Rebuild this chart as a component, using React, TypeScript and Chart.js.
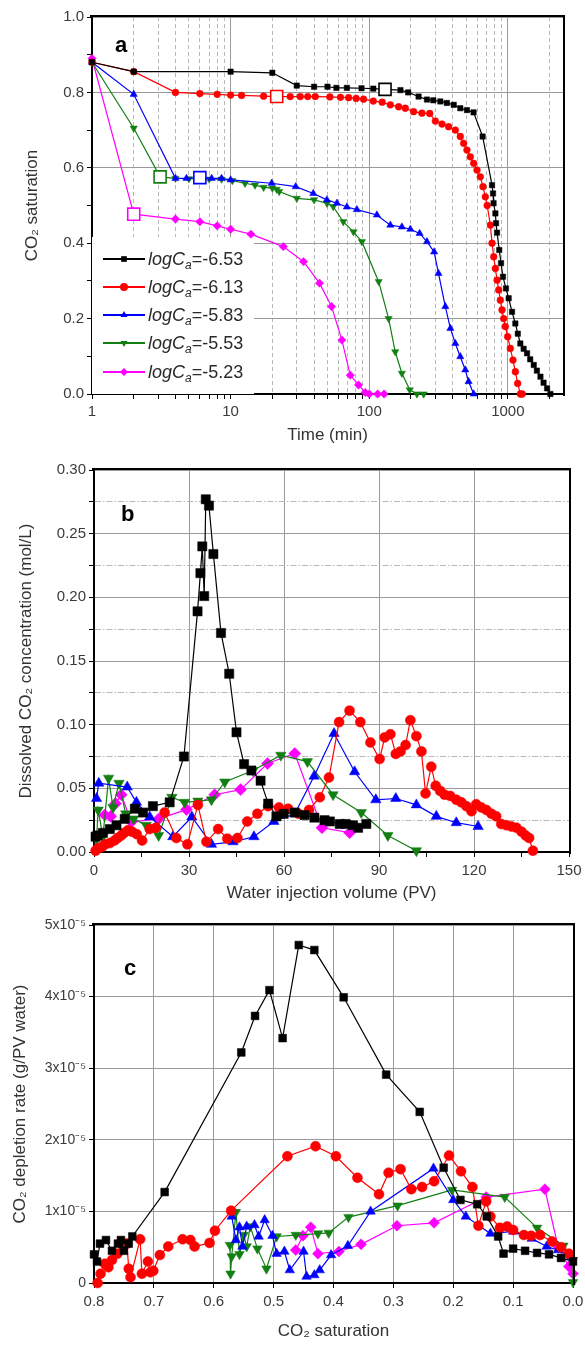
import React, { useEffect, useRef } from 'react';
import { Chart, registerables } from 'chart.js';
Chart.register(...registerables);

const FONT = '"Liberation Sans", Arial, Helvetica, sans-serif';
const TICK_COLOR = '#3a3a3a';
const TITLE_COLOR = '#333333';
const GRID_MAJOR = '#9a9a9a';
const GRID_MINOR = '#b8b8b8';

// ---- series definitions ----
const SERIES_NAMES = ['-6.53', '-6.13', '-5.83', '-5.53', '-5.23'];
const SERIES_COLORS = ['#000000', '#ff0000', '#0000ff', '#127f12', '#ff00ff'];
const SERIES_STYLES = ['rect', 'circle', 'triangle', 'triangle', 'rectRot'];
const SERIES_ROT = [0, 0, 0, 180, 0];

// ---- panel a: CO2 saturation vs time (min) ----
const A_TIME_TICKS = [1, 2, 3, 4, 5, 6, 7, 8, 9, 10, 20, 30, 40, 50, 60, 70, 80, 90, 100, 200, 300, 400, 500, 600, 700, 800, 900, 1000, 2000];
const A_TIME_LABELS = [1, 10, 100, 1000];
const A_BLACK = [[1, 0.88], [2, 0.855], [10, 0.855], [20, 0.852], [30, 0.818], [40, 0.815], [50, 0.815], [58, 0.812], [69, 0.812], [88, 0.811], [107, 0.81], [130, 0.808], [168, 0.806], [191, 0.8], [227, 0.789], [261, 0.781], [290, 0.779], [326, 0.776], [363, 0.772], [407, 0.767], [454, 0.758], [507, 0.753], [566, 0.747], [658, 0.683], [769, 0.554], [782, 0.532], [789, 0.506], [813, 0.479], [822, 0.453], [836, 0.428], [867, 0.382], [893, 0.347], [922, 0.311], [969, 0.28], [1014, 0.254], [1072, 0.218], [1133, 0.187], [1180, 0.16], [1231, 0.134], [1300, 0.12], [1376, 0.108], [1450, 0.092], [1538, 0.077], [1620, 0.062], [1719, 0.046], [1810, 0.03], [1919, 0.015], [2028, 0.0]];
const A_RED = [[1, 0.88], [2, 0.855], [4, 0.8], [6, 0.797], [8, 0.795], [10, 0.793], [12, 0.792], [17.3, 0.79], [21.5, 0.789], [26.9, 0.789], [31.8, 0.789], [36, 0.789], [40.8, 0.789], [52, 0.788], [62, 0.787], [71, 0.786], [80.5, 0.784], [91, 0.782], [107, 0.777], [124, 0.774], [142, 0.767], [163, 0.762], [182, 0.758], [209, 0.749], [240, 0.745], [273, 0.744], [300, 0.724], [335, 0.716], [374, 0.709], [418, 0.7], [454, 0.683], [480, 0.665], [507, 0.647], [536, 0.629], [567, 0.612], [599, 0.594], [633, 0.576], [662, 0.55], [688, 0.523], [710, 0.5], [748, 0.448], [769, 0.4], [791, 0.364], [813, 0.333], [836, 0.302], [859, 0.276], [883, 0.249], [908, 0.223], [933, 0.2], [959, 0.179], [997, 0.152], [1042, 0.121], [1089, 0.09], [1133, 0.059], [1177, 0.028], [1231, 0.0], [1270, 0.0]];
const A_BLUE = [[1, 0.88], [2, 0.795], [4, 0.572], [4.8, 0.572], [6, 0.574], [7.3, 0.572], [8.6, 0.572], [10, 0.568], [19.8, 0.559], [29.5, 0.55], [39.5, 0.532], [49.5, 0.515], [58.5, 0.506], [69, 0.496], [81.5, 0.489], [113.6, 0.475], [142, 0.448], [172, 0.443], [198, 0.437], [231, 0.426], [261, 0.404], [294, 0.377], [316, 0.32], [354, 0.232], [385, 0.174], [418, 0.134], [454, 0.099], [493, 0.064], [521, 0.033], [567, 0.0]];
const A_GREEN = [[1, 0.88], [2, 0.705], [3.1, 0.576], [4, 0.572], [5, 0.571], [7, 0.57], [8.6, 0.57], [10.3, 0.566], [12.7, 0.559], [15, 0.554], [17.3, 0.548], [20, 0.546], [21.5, 0.543], [22.4, 0.537], [30, 0.519], [40, 0.515], [49.6, 0.506], [55, 0.497], [65, 0.457], [77, 0.43], [88.5, 0.404], [117, 0.298], [138, 0.2], [154, 0.112], [172, 0.055], [196, 0.011], [221, 0.0], [247, 0.0]];
const A_MAGENTA = [[1, 0.89], [2, 0.477], [4, 0.464], [6, 0.457], [8, 0.446], [10, 0.437], [14, 0.424], [24, 0.391], [33.6, 0.351], [43.8, 0.294], [53.5, 0.232], [63.5, 0.143], [73, 0.05], [83.7, 0.024], [93.6, 0.004], [100, 0.0], [115, 0.0], [128, 0.0]];
const A_OPEN_MARKS = [[130, 0.808], [21.5, 0.789], [6, 0.574], [3.1, 0.576], [2, 0.477]];

// ---- panel b: dissolved CO2 concentration vs water injection volume ----
const B_BLACK = [[0.5, 0.012], [1.1, 0.013], [2.8, 0.015], [5, 0.018], [7.1, 0.021], [9.7, 0.026], [12.9, 0.034], [15.5, 0.031], [18.6, 0.036], [23.9, 0.039], [28.4, 0.075], [32.7, 0.189], [33.6, 0.219], [34.2, 0.24], [34.8, 0.201], [35.3, 0.277], [36.3, 0.272], [37.7, 0.234], [40.1, 0.172], [42.7, 0.14], [45.0, 0.094], [47.4, 0.069], [49.7, 0.064], [52.6, 0.056], [55.0, 0.038], [57.6, 0.028], [59.9, 0.03], [63.4, 0.031], [66.5, 0.029], [69.6, 0.027], [72.8, 0.025], [74.5, 0.024], [77.6, 0.022], [79.5, 0.022], [81.8, 0.021], [83.4, 0.019], [86, 0.022]];
const B_RED = [[0.5, 0.001], [1.3, 0.003], [2.5, 0.004], [3.5, 0.006], [5, 0.007], [6.5, 0.009], [7.5, 0.011], [8.6, 0.013], [9.5, 0.015], [10.7, 0.017], [12, 0.016], [13.5, 0.014], [15.2, 0.009], [17.6, 0.018], [19.5, 0.019], [22.3, 0.031], [26, 0.011], [29.5, 0.006], [32.8, 0.037], [35.5, 0.008], [39.2, 0.018], [42.1, 0.0105], [45.3, 0.011], [48.4, 0.024], [51.6, 0.03], [55, 0.036], [58.4, 0.035], [61.3, 0.034], [64.6, 0.03], [67.9, 0.033], [71.3, 0.043], [74.2, 0.0585], [77.4, 0.102], [80.7, 0.111], [84.1, 0.102], [87.3, 0.086], [90.2, 0.073], [91.8, 0.09], [93.6, 0.0925], [95.3, 0.077], [96.8, 0.079], [98.4, 0.084], [99.9, 0.1035], [101.8, 0.091], [103.4, 0.079], [104.7, 0.046], [106.5, 0.067], [107.9, 0.052], [109.3, 0.048], [110.7, 0.045], [112.5, 0.044], [114.4, 0.041], [116, 0.039], [117.6, 0.036], [119.2, 0.032], [120.7, 0.0375], [122.3, 0.035], [123.9, 0.033], [125.5, 0.03], [127, 0.028], [128.6, 0.022], [130.2, 0.021], [131.8, 0.02], [133.4, 0.019], [135, 0.016], [136.3, 0.013], [137.4, 0.011], [138.6, 0.001]];
const B_BLUE = [[0.8, 0.042], [1.5, 0.054], [10.5, 0.051], [13.4, 0.039], [17.6, 0.0275], [24.9, 0.012], [30.9, 0.0275], [37.1, 0.006], [43.9, 0.008], [50.5, 0.012], [56.8, 0.024], [63.4, 0.03], [69.5, 0.0595], [75.8, 0.093], [82.3, 0.063], [89, 0.041], [95.3, 0.042], [101.8, 0.037], [108.1, 0.028], [114.4, 0.023], [121.3, 0.02]];
const B_GREEN = [[0.8, 0.01], [1.3, 0.033], [2.8, 0.012], [4.6, 0.058], [6, 0.035], [7.9, 0.054], [10, 0.03], [12.5, 0.026], [16.5, 0.021], [20.4, 0.013], [24.6, 0.043], [28.6, 0.039], [32.8, 0.04], [37.1, 0.041], [41.3, 0.055], [50.2, 0.064], [59, 0.076], [67.4, 0.071], [75.5, 0.045], [84.4, 0.031], [92.8, 0.013], [101.8, 0.001]];
const B_MAGENTA = [[3.4, 0.029], [5.3, 0.028], [6.8, 0.038], [8.6, 0.045], [11.8, 0.0236], [20.4, 0.026], [29.2, 0.0333], [38.1, 0.045], [46.3, 0.049], [54.8, 0.0695], [63.4, 0.0774], [72, 0.019], [80.7, 0.0152]];

// ---- panel c: CO2 depletion rate (x1e-5 g/PV water) vs CO2 saturation ----
const C_UNIT = 1e-5;
const C_BLACK = [[0.8, 0.4], [0.795, 0.3], [0.79, 0.55], [0.78, 0.6], [0.77, 0.45], [0.76, 0.55], [0.755, 0.6], [0.75, 0.45], [0.742, 0.55], [0.736, 0.65], [0.682, 1.27], [0.554, 3.22], [0.531, 3.73], [0.507, 4.09], [0.485, 3.42], [0.458, 4.72], [0.432, 4.65], [0.383, 3.99], [0.312, 2.91], [0.256, 2.39], [0.216, 1.61], [0.188, 1.16], [0.16, 1.1], [0.144, 0.93], [0.125, 0.65], [0.116, 0.41], [0.1, 0.48], [0.08, 0.45], [0.06, 0.42], [0.04, 0.4], [0.02, 0.35], [0.0, 0.3]];
const C_RED = [[0.794, 0.0], [0.789, 0.13], [0.782, 0.27], [0.776, 0.22], [0.77, 0.32], [0.761, 0.41], [0.751, 0.51], [0.745, 0.55], [0.742, 0.2], [0.739, 0.08], [0.723, 0.61], [0.72, 0.13], [0.71, 0.3], [0.706, 0.15], [0.701, 0.17], [0.69, 0.39], [0.676, 0.51], [0.652, 0.61], [0.639, 0.6], [0.632, 0.51], [0.607, 0.56], [0.598, 0.73], [0.571, 1.01], [0.477, 1.77], [0.43, 1.91], [0.396, 1.77], [0.36, 1.47], [0.324, 1.24], [0.308, 1.54], [0.288, 1.59], [0.27, 1.31], [0.252, 1.34], [0.232, 1.42], [0.207, 1.78], [0.187, 1.56], [0.168, 1.34], [0.158, 0.8], [0.145, 1.14], [0.138, 0.93], [0.122, 0.77], [0.11, 0.79], [0.1, 0.74], [0.082, 0.67], [0.07, 0.66], [0.055, 0.67], [0.035, 0.58], [0.02, 0.5], [0.007, 0.41]];
const C_BLUE = [[0.57, 0.93], [0.563, 0.6], [0.557, 0.78], [0.552, 0.51], [0.545, 0.79], [0.532, 0.81], [0.525, 0.65], [0.515, 0.88], [0.502, 0.66], [0.495, 0.41], [0.482, 0.44], [0.473, 0.18], [0.45, 0.44], [0.445, 0.09], [0.432, 0.11], [0.423, 0.18], [0.404, 0.39], [0.376, 0.52], [0.338, 1.0], [0.233, 1.6], [0.2, 1.16], [0.179, 0.93], [0.138, 0.69], [0.1, 0.72], [0.069, 0.62], [0.044, 0.51], [0.025, 0.46], [0.003, 0.37]];
const C_GREEN = [[0.573, 0.53], [0.572, 0.13], [0.57, 0.37], [0.563, 0.99], [0.557, 0.4], [0.55, 0.67], [0.545, 0.51], [0.539, 0.79], [0.527, 0.48], [0.512, 0.2], [0.495, 0.65], [0.463, 0.67], [0.426, 0.69], [0.408, 0.7], [0.375, 0.92], [0.293, 1.08], [0.202, 1.3], [0.114, 1.2], [0.06, 0.77], [0.016, 0.52], [0.0, 0.32], [0.0, 0.01]];
const C_MAGENTA = [[0.463, 0.46], [0.451, 0.66], [0.438, 0.78], [0.426, 0.41], [0.391, 0.44], [0.354, 0.54], [0.294, 0.8], [0.232, 0.84], [0.145, 1.2], [0.047, 1.31], [0.025, 0.51], [0.007, 0.23], [0.0, 0.13]];

// ---- helpers ----
const toXY = (arr: number[][], k = 1) => arr.map(([x, y]) => ({ x, y: y * k }));

function seriesDatasets(all: number[][][], radii: number[], k = 1) {
  return all.map((arr, i) => ({
    label: 'logCa=' + SERIES_NAMES[i],
    data: toXY(arr, k),
    showLine: true,
    borderColor: SERIES_COLORS[i],
    backgroundColor: SERIES_COLORS[i],
    borderWidth: 1.2,
    pointStyle: SERIES_STYLES[i],
    pointRotation: SERIES_ROT[i],
    pointRadius: radii[i],
    pointBorderWidth: 0.5,
    pointHoverRadius: radii[i],
    order: i + 1,
    clip: false,
  }));
}

const frameLines = {
  id: 'frameLines',
  afterDraw(chart: any) {
    const { ctx, chartArea: a } = chart;
    ctx.save();
    ctx.strokeStyle = '#000';
    ctx.lineWidth = 2;
    ctx.beginPath();
    ctx.moveTo(a.left - 2, a.top - 1);
    ctx.lineTo(a.right + 1, a.top - 1);
    ctx.lineTo(a.right + 1, a.bottom + 2);
    ctx.stroke();
    ctx.restore();
  },
};

function letterPlugin(letter: string, x: number, y: number) {
  return {
    id: 'panelLetter',
    afterDraw(chart: any) {
      const ctx = chart.ctx;
      ctx.save();
      ctx.font = 'bold 22px ' + FONT;
      ctx.fillStyle = '#000';
      ctx.textBaseline = 'middle';
      ctx.textAlign = 'left';
      ctx.fillText(letter, x, y);
      ctx.restore();
    },
  };
}

function drawMarker(ctx: CanvasRenderingContext2D, style: string, rot: number, x: number, y: number, r: number) {
  ctx.beginPath();
  if (style === 'rect') {
    const s = r * Math.SQRT1_2;
    ctx.rect(x - s, y - s, 2 * s, 2 * s);
  } else if (style === 'circle') {
    ctx.arc(x, y, r, 0, Math.PI * 2);
  } else if (style === 'triangle') {
    const sgn = rot === 180 ? -1 : 1;
    ctx.moveTo(x, y - sgn * r);
    ctx.lineTo(x + r * 0.87, y + sgn * r * 0.5);
    ctx.lineTo(x - r * 0.87, y + sgn * r * 0.5);
    ctx.closePath();
  } else {
    ctx.moveTo(x, y - r);
    ctx.lineTo(x + r, y);
    ctx.lineTo(x, y + r);
    ctx.lineTo(x - r, y);
    ctx.closePath();
  }
  ctx.fill();
}

const LEGEND_ROWS = [259, 287, 315, 343, 372];
const insetLegend = {
  id: 'insetLegend',
  beforeDatasetsDraw(chart: any) {
    const { ctx, chartArea: a } = chart;
    ctx.save();
    ctx.fillStyle = '#ffffff';
    ctx.fillRect(a.left, 237, 254 - a.left, a.bottom - 237);
    SERIES_NAMES.forEach((name, i) => {
      const y = LEGEND_ROWS[i];
      ctx.strokeStyle = SERIES_COLORS[i];
      ctx.fillStyle = SERIES_COLORS[i];
      ctx.lineWidth = 2;
      ctx.beginPath();
      ctx.moveTo(103, y);
      ctx.lineTo(145, y);
      ctx.stroke();
      drawMarker(ctx, SERIES_STYLES[i], SERIES_ROT[i], 124, y, 4);
      ctx.fillStyle = '#2a2a2a';
      ctx.textBaseline = 'alphabetic';
      ctx.textAlign = 'left';
      let x = 148;
      const base = y + 6;
      ctx.font = 'italic 18px ' + FONT;
      ctx.fillText('logC', x, base);
      x += ctx.measureText('logC').width;
      ctx.font = 'italic 12px ' + FONT;
      ctx.fillText('a', x, base + 4);
      x += ctx.measureText('a').width;
      ctx.font = '18px ' + FONT;
      ctx.fillText('=' + name, x, base);
    });
    ctx.restore();
  },
};

function fixBox(w?: number, h?: number) {
  return (s: any) => {
    if (w !== undefined) s.width = w;
    if (h !== undefined) s.height = h;
    s.paddingLeft = 0;
    s.paddingRight = 0;
    s.paddingTop = 0;
    s.paddingBottom = 0;
  };
}

const tickFont = (size: number) => ({ family: FONT, size });
const titleFont = { family: FONT, size: 17 };

function configA() {
  const main = seriesDatasets([A_BLACK, A_RED, A_BLUE, A_GREEN, A_MAGENTA], [3.8, 3.4, 4.2, 4.2, 4.2]);
  const open = A_OPEN_MARKS.map((p, i) => ({
    label: 'mark' + i,
    data: toXY([p]),
    showLine: false,
    pointStyle: 'rect',
    pointRadius: 8.5,
    pointHoverRadius: 8.5,
    borderColor: SERIES_COLORS[i],
    backgroundColor: '#ffffff',
    pointBorderWidth: 1.6,
    borderWidth: 1.6,
    order: 0,
    clip: false,
  }));
  return {
    type: 'scatter',
    data: { datasets: [...open, ...main] },
    options: {
      animation: false,
      responsive: false,
      events: [],
      layout: { padding: { left: 0, right: 22, top: 17, bottom: 0 } },
      plugins: { legend: { display: false }, tooltip: { enabled: false } },
      scales: {
        x: {
          type: 'logarithmic',
          min: 1,
          max: 2500,
          afterFit: fixBox(undefined, 56),
          afterBuildTicks: (s: any) => {
            s.ticks = A_TIME_TICKS.map((v) => ({ value: v, major: A_TIME_LABELS.includes(v) }));
          },
          ticks: {
            autoSkip: false,
            maxRotation: 0,
            padding: 4,
            color: TICK_COLOR,
            font: tickFont(15),
            callback: (v: number) => (A_TIME_LABELS.includes(v) ? String(v) : ''),
          },
          grid: {
            color: (c: any) => (c.tick && c.tick.major ? GRID_MAJOR : GRID_MINOR),
            tickColor: '#000',
            tickLength: 5,
            lineWidth: 1,
          },
          border: {
            color: '#000',
            width: 2,
            dash: (c: any) => (c.tick && !c.tick.major ? [4, 3] : []),
          },
          title: { display: true, text: 'Time (min)', color: TITLE_COLOR, font: titleFont, padding: { top: 0, bottom: 4 } },
        },
        y: {
          type: 'linear',
          min: 0,
          max: 1,
          afterFit: fixBox(92, undefined),
          ticks: {
            stepSize: 0.1,
            padding: 3,
            color: TICK_COLOR,
            font: tickFont(15),
            callback: (v: number) => (Math.round(v * 10) % 2 === 0 ? v.toFixed(1) : ''),
          },
          grid: {
            color: (c: any) => (c.tick && Math.round(c.tick.value * 10) % 2 === 0 ? GRID_MAJOR : 'rgba(0,0,0,0)'),
            tickColor: '#000',
            tickLength: 5,
          },
          border: { color: '#000', width: 2 },
          title: { display: true, text: 'CO₂ saturation', color: TITLE_COLOR, font: titleFont, padding: { top: 22, bottom: 0 } },
        },
      },
    },
    plugins: [insetLegend, frameLines, letterPlugin('a', 115, 46)],
  };
}

function configB() {
  return {
    type: 'scatter',
    data: { datasets: seriesDatasets([B_BLACK, B_RED, B_BLUE, B_GREEN, B_MAGENTA], [6.5, 5, 6, 6, 6]) },
    options: {
      animation: false,
      responsive: false,
      events: [],
      layout: { padding: { left: 0, right: 16, top: 20, bottom: 0 } },
      plugins: { legend: { display: false }, tooltip: { enabled: false } },
      scales: {
        x: {
          type: 'linear',
          min: 0,
          max: 150,
          afterFit: fixBox(undefined, 58),
          ticks: {
            stepSize: 15,
            autoSkip: false,
            maxRotation: 0,
            padding: 5,
            color: TICK_COLOR,
            font: tickFont(15),
            callback: (v: number) => (Math.round(v) % 30 === 0 ? String(Math.round(v)) : ''),
          },
          grid: {
            color: (c: any) => (c.tick && Math.round(c.tick.value) % 30 === 0 ? GRID_MAJOR : 'rgba(0,0,0,0)'),
            tickColor: '#000',
            tickLength: 5,
          },
          border: { color: '#000', width: 2 },
          title: { display: true, text: 'Water injection volume (PV)', color: TITLE_COLOR, font: titleFont, padding: { top: 0, bottom: 6 } },
        },
        y: {
          type: 'linear',
          min: 0,
          max: 0.3,
          afterFit: fixBox(94, undefined),
          ticks: {
            stepSize: 0.025,
            padding: 3,
            color: TICK_COLOR,
            font: tickFont(15),
            callback: (v: number) => (Math.round(v / 0.025) % 2 === 0 ? v.toFixed(2) : ''),
          },
          grid: {
            color: (c: any) => (c.tick && Math.round(c.tick.value / 0.025) % 2 === 0 ? GRID_MAJOR : GRID_MINOR),
            tickColor: '#000',
            tickLength: 5,
          },
          border: {
            color: '#000',
            width: 2,
            dash: (c: any) => (c.tick && Math.round(c.tick.value / 0.025) % 2 === 1 ? [6, 2, 1.5, 2] : []),
          },
          title: { display: true, text: 'Dissolved CO₂ concentration (mol/L)', color: TITLE_COLOR, font: titleFont, padding: { top: 16, bottom: 0 } },
        },
      },
    },
    plugins: [frameLines, letterPlugin('b', 121, 65)],
  };
}

function configC() {
  return {
    type: 'scatter',
    data: { datasets: seriesDatasets([C_BLACK, C_RED, C_BLUE, C_GREEN, C_MAGENTA], [5.5, 5, 5.5, 5.5, 5.5], C_UNIT) },
    options: {
      animation: false,
      responsive: false,
      events: [],
      layout: { padding: { left: 0, right: 12, top: 15, bottom: 0 } },
      plugins: { legend: { display: false }, tooltip: { enabled: false } },
      scales: {
        x: {
          type: 'linear',
          reverse: true,
          min: 0,
          max: 0.8,
          afterFit: fixBox(undefined, 66),
          ticks: {
            stepSize: 0.1,
            autoSkip: false,
            maxRotation: 0,
            padding: 5,
            color: TICK_COLOR,
            font: tickFont(15),
            callback: (v: number) => v.toFixed(1),
          },
          grid: { color: GRID_MAJOR, tickColor: '#000', tickLength: 5 },
          border: { color: '#000', width: 2 },
          title: { display: true, text: 'CO₂ saturation', color: TITLE_COLOR, font: titleFont, padding: { top: 0, bottom: 7 } },
        },
        y: {
          type: 'linear',
          min: 0,
          max: 5 * C_UNIT,
          afterFit: fixBox(94, undefined),
          ticks: {
            stepSize: C_UNIT,
            padding: 3,
            color: TICK_COLOR,
            font: tickFont(14),
            callback: (v: number) => {
              const n = Math.round(v / C_UNIT);
              return n === 0 ? '0' : n + 'x10⁻⁵';
            },
          },
          grid: { color: GRID_MAJOR, tickColor: '#000', tickLength: 5 },
          border: { color: '#000', width: 2 },
          title: { display: true, text: 'CO₂ depletion rate (g/PV water)', color: TITLE_COLOR, font: titleFont, padding: { top: 10, bottom: 0 } },
        },
      },
    },
    plugins: [frameLines, letterPlugin('c', 124, 59)],
  };
}

function Panel({ top, height, make }: { top: number; height: number; make: () => any }) {
  const ref = useRef<HTMLCanvasElement | null>(null);
  useEffect(() => {
    if (!ref.current) return;
    const chart = new Chart(ref.current, make());
    return () => chart.destroy();
  }, []);
  return (
    <canvas
      ref={ref}
      width={585}
      height={height}
      style={{ position: 'absolute', left: 0, top, width: 585, height }}
    />
  );
}

export default function App() {
  return (
    <div style={{ position: 'absolute', left: 0, top: 0, width: 585, height: 1349, background: '#fff', overflow: 'hidden' }}>
      <Panel top={0} height={450} make={configA} />
      <Panel top={450} height={460} make={configB} />
      <Panel top={910} height={439} make={configC} />
    </div>
  );
}
